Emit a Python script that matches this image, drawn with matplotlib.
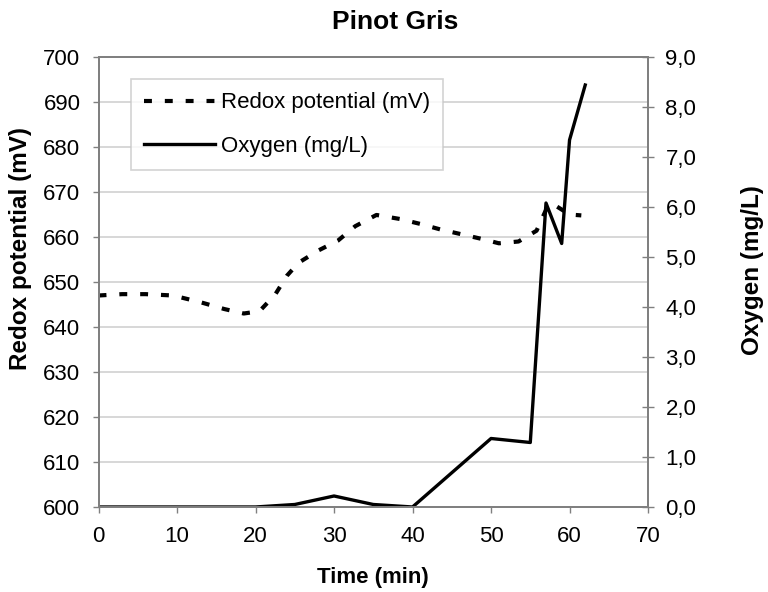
import matplotlib
matplotlib.use("Agg")
import matplotlib.pyplot as plt
from matplotlib.ticker import FuncFormatter

plt.rcParams['font.family'] = ['Liberation Sans', 'DejaVu Sans']

# redox potential (mV)
redox_time = [0, 3, 6, 9.5, 13, 16, 18.5, 20.5, 22.5, 24, 25.5, 28, 30.5, 32.7,
              35.4, 38.4, 41, 43.5, 46, 49, 51, 53.5, 55.8, 57.1, 58, 60, 61.5]
redox_mv = [647.0, 647.3, 647.3, 647.0, 645.5, 644.0, 643.0, 643.5, 647.2, 651.4,
            654.3, 657.0, 659.2, 662.4, 664.9, 664.0, 662.9, 661.7, 660.7, 659.5,
            658.6, 659.0, 661.4, 666.4, 667.2, 665.0, 664.8]

# dissolved oxygen (mg/L)
oxy_time = [0, 10, 20, 25, 30, 35, 40, 50, 55, 57, 59, 60, 62]
oxy_mgl = [0, 0, 0, 0.05, 0.22, 0.05, 0, 1.37, 1.29, 6.08, 5.27, 7.34, 8.44]

grey = '#808080'

fig = plt.figure(figsize=(7.68, 5.92), dpi=100)
ax = fig.add_axes([0.1283, 0.1436, 0.7155, 0.7601])
ax2 = ax.twinx()

l1, = ax.plot(redox_time, redox_mv, color='black', lw=3, linestyle=(0, (1.9, 3.1)),
              dash_capstyle='butt', label='Redox potential (mV)')
l2, = ax2.plot(oxy_time, oxy_mgl, color='black', lw=2.4, label='Oxygen (mg/L)')

ax.set_xlim(0, 70)
ax.set_ylim(600, 700)
ax.set_xticks(range(0, 71, 10))
ax.set_yticks(range(600, 701, 10))
ax2.set_ylim(0, 9)
ax2.set_yticks(range(0, 10))
ax2.yaxis.set_major_formatter(FuncFormatter(lambda v, p: f'{v:.1f}'.replace('.', ',')))

ax.yaxis.grid(True, color='#d4d4d4', lw=1.3)
ax.set_axisbelow(True)

for a in (ax, ax2):
    for s in a.spines.values():
        s.set_color(grey)
        s.set_linewidth(1.4)
    a.tick_params(labelsize=16, color=grey, length=4, width=1)
ax2.tick_params(axis='y', direction='inout', length=9, pad=8)
ax.tick_params(axis='y', pad=9)
ax.tick_params(axis='x', pad=10)

fig.text(395 / 768, 1 - 22 / 592, 'Pinot Gris', fontsize=19, fontweight='bold',
         ha='center', va='center')
fig.text(373 / 768, 1 - 577 / 592, 'Time (min)', fontsize=16, fontweight='bold',
         ha='center', va='center')
fig.text(21 / 768, 1 - 249 / 592, 'Redox potential (mV)', fontsize=17.5, fontweight='bold',
         ha='center', va='center', rotation=90)
fig.text(753 / 768, 1 - 270 / 592, 'Oxygen (mg/L)', fontsize=17.5, fontweight='bold',
         ha='center', va='center', rotation=90)

leg = ax2.legend(handles=[l1, l2], loc='upper left', bbox_to_anchor=(0.059, 0.951),
                 fontsize=16, frameon=True, fancybox=False, handlelength=3.2,
                 handletextpad=0.25, borderpad=0.6, labelspacing=1.0,
                 borderaxespad=0)
leg.get_frame().set_edgecolor('#c8c8c8')
leg.get_frame().set_linewidth(1.2)

fig.savefig('out.png', dpi=100)
